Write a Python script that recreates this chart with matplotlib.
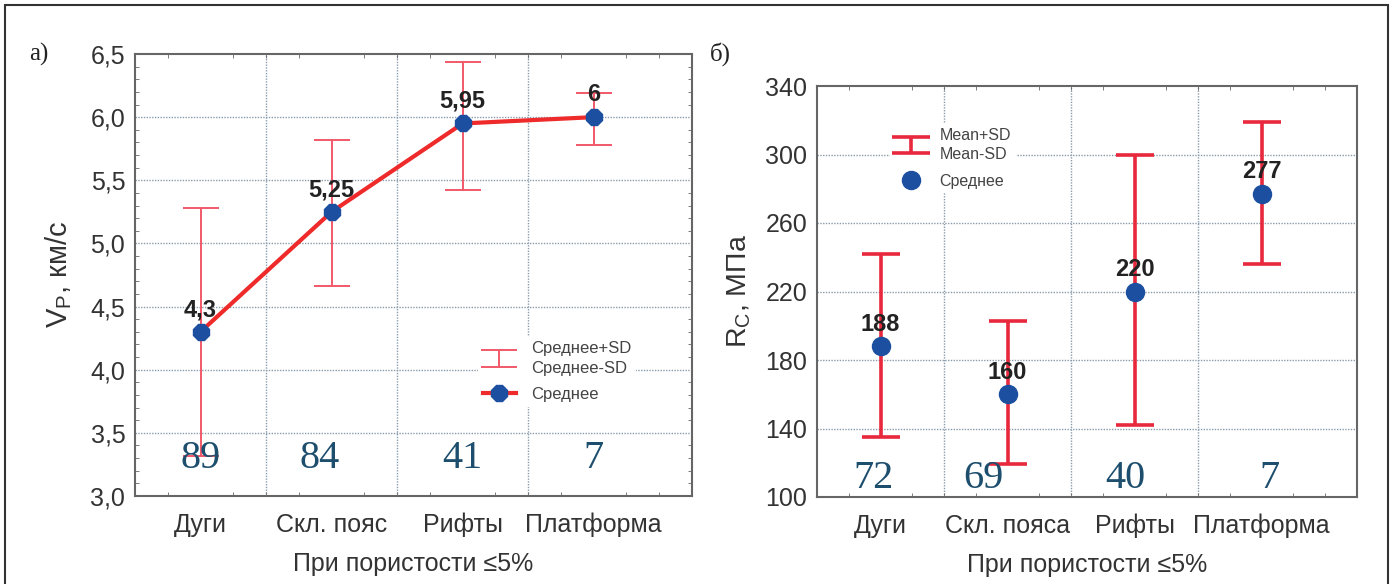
import numpy as np
import matplotlib
matplotlib.use("Agg")
import matplotlib.pyplot as plt
from matplotlib.patches import Rectangle

plt.rcParams["font.family"] = ["Liberation Sans", "DejaVu Sans"]
plt.rcParams["mathtext.default"] = "regular"

# ---- data ----
cats_a = ["Дуги", "Скл. пояс", "Рифты", "Платформа"]
vp_mean = [4.3, 5.25, 5.95, 6.0]
vp_hi = [5.28, 5.82, 6.44, 6.19]
vp_lo = [3.32, 4.66, 5.42, 5.78]
vp_lab = ["4,3", "5,25", "5,95", "6"]
n_a = [89, 84, 41, 7]

cats_b = ["Дуги", "Скл. пояса", "Рифты", "Платформа"]
rc_mean = [188, 160, 220, 277]
rc_hi = [242, 203, 300, 319]
rc_lo = [135, 119, 142, 236]
n_b = [72, 69, 40, 7]

BLUE = "#1c4fa0"; RED = "#ee2a2a"; EB_A = "#f2596a"; EB_B = "#e8283c"
GRID = "#8a9cab"; TXT = "#333333"; NUM = "#1d4e6e"
SERIF = ["Liberation Serif", "DejaVu Serif"]

fig = plt.figure(figsize=(13.94, 5.84), dpi=100)
axA = fig.add_axes([135/1394, 1-496/584, 557/1394, 442/584])
axB = fig.add_axes([817/1394, 1-497/584, 540/1394, 411/584])

def style(ax, n):
    ax.set_xlim(-0.5, n-0.5)
    ax.set_xticks(range(n))
    ax.set_xticks(np.arange(-0.5, n, 0.25), minor=True)
    for v in np.arange(0.5, n-0.5, 1):
        ax.axvline(v, color=GRID, ls=(0, (1, 1)), lw=1, zorder=0)
    for s in ax.spines.values():
        s.set_color("#666666"); s.set_linewidth(1.5)
    ax.tick_params(axis="both", which="major", labelsize=18, labelcolor=TXT, length=0, pad=7)
    ax.tick_params(axis="x", which="major", pad=12)
    ax.tick_params(axis="both", which="minor", direction="in", length=3, color="#666666",
                   top=True, right=True, bottom=True, left=True)

x = np.arange(4)

# ---- panel a ----
style(axA, 4)
axA.set_ylim(3.0, 6.5)
yt = np.arange(3.0, 6.51, 0.5)
axA.set_yticks(yt)
axA.set_yticklabels([f"{v:.1f}".replace(".", ",") for v in yt])
axA.set_yticks(np.arange(3.0, 6.5, 0.1), minor=True)
for v in yt[1:-1]:
    axA.axhline(v, color=GRID, ls=(0, (1, 1)), lw=1, zorder=0)
axA.set_xticklabels(cats_a)
eb = axA.errorbar(x, vp_mean, yerr=[np.subtract(vp_mean, vp_lo), np.subtract(vp_hi, vp_mean)],
                  fmt="none", ecolor=EB_A, elinewidth=1.4, capsize=13, capthick=1.4, zorder=2)
ln, = axA.plot(x, vp_mean, color=RED, lw=3, marker="8", ms=12.5, mfc=BLUE, mec=BLUE, zorder=3)
for xi, yi, t in zip(x, vp_mean, vp_lab):
    axA.annotate(t, (xi, yi), xytext=(0, 16), textcoords="offset points", ha="center",
                 va="center", fontsize=17, fontweight="bold", color="#222222", zorder=4)
for xi, dx, nv in zip(x, [0, -0.09, 0, 0], n_a):
    axA.text(xi + dx, 3.3, str(nv), ha="center", va="center", fontsize=29, color=NUM,
             family=SERIF, zorder=4)
axA.set_ylabel("V$_P$, км/с", fontsize=21, color=TXT, labelpad=12)
axA.set_xlabel("При пористости ≤5%", fontsize=18, color=TXT, labelpad=11)
legA = axA.legend([eb, ln], ["Среднее+SD\nСреднее-SD", "Среднее"], loc="upper left",
                  bbox_to_anchor=(0.6, 0.38), fontsize=12, frameon=True, framealpha=1,
                  edgecolor="none", facecolor="white", handlelength=2.0, labelspacing=0.7,
                  borderpad=0.3, handletextpad=0.9)
for t in legA.get_texts():
    t.set_color("#444444"); t.set_linespacing(1.35)

# ---- panel b ----
style(axB, 4)
axB.set_ylim(100, 340)
yt2 = np.arange(100, 341, 40)
axB.set_yticks(yt2)
for v in yt2[1:-1]:
    axB.axhline(v, color=GRID, ls=(0, (1, 1)), lw=1, zorder=0)
axB.set_xticklabels(cats_b)
eb2 = axB.errorbar(x, rc_mean, yerr=[np.subtract(rc_mean, rc_lo), np.subtract(rc_hi, rc_mean)],
                   fmt="none", ecolor=EB_B, elinewidth=2.6, capsize=14, capthick=2.6, zorder=2)
mk, = axB.plot(x, rc_mean, ls="none", marker="o", ms=13, mfc=BLUE, mec=BLUE, zorder=3)
for xi, yi in zip(x, rc_mean):
    axB.annotate(str(yi), (xi, yi), xytext=(0, 16), textcoords="offset points", ha="center",
                 va="center", fontsize=17, fontweight="bold", color="#222222", zorder=4)
for xi, dx, nv in zip(x, [-0.055, -0.19, -0.07, 0.06], n_b):
    axB.text(xi + dx, 111, str(nv), ha="center", va="center", fontsize=29, color=NUM,
             family=SERIF, zorder=4)
axB.set_ylabel("R$_C$, МПа", fontsize=20.5, color=TXT, labelpad=9)
axB.set_xlabel("При пористости ≤5%", fontsize=18, color=TXT, labelpad=11)
legB = axB.legend([eb2, mk], ["Mean+SD\nMean-SD", "Среднее"], loc="upper left",
                  bbox_to_anchor=(0.12, 0.93), fontsize=11.5, frameon=True, framealpha=1,
                  edgecolor="none", facecolor="white", handlelength=2.0, labelspacing=0.7,
                  borderpad=0.3, handletextpad=0.8)
for t in legB.get_texts():
    t.set_color("#444444"); t.set_linespacing(1.4)

fig.text(29/1394, 1-54/584, "а)", fontsize=18, family=SERIF, color="#222222", va="center")
fig.text(710/1394, 1-54/584, "б)", fontsize=18, family=SERIF, color="#222222", va="center")
fig.patches.append(Rectangle((5/1394, -0.02), 1383/1394, 1.02 - 5/584, transform=fig.transFigure,
                             fill=False, edgecolor="#333333", lw=1.5))

fig.savefig("out.png", dpi=100)
